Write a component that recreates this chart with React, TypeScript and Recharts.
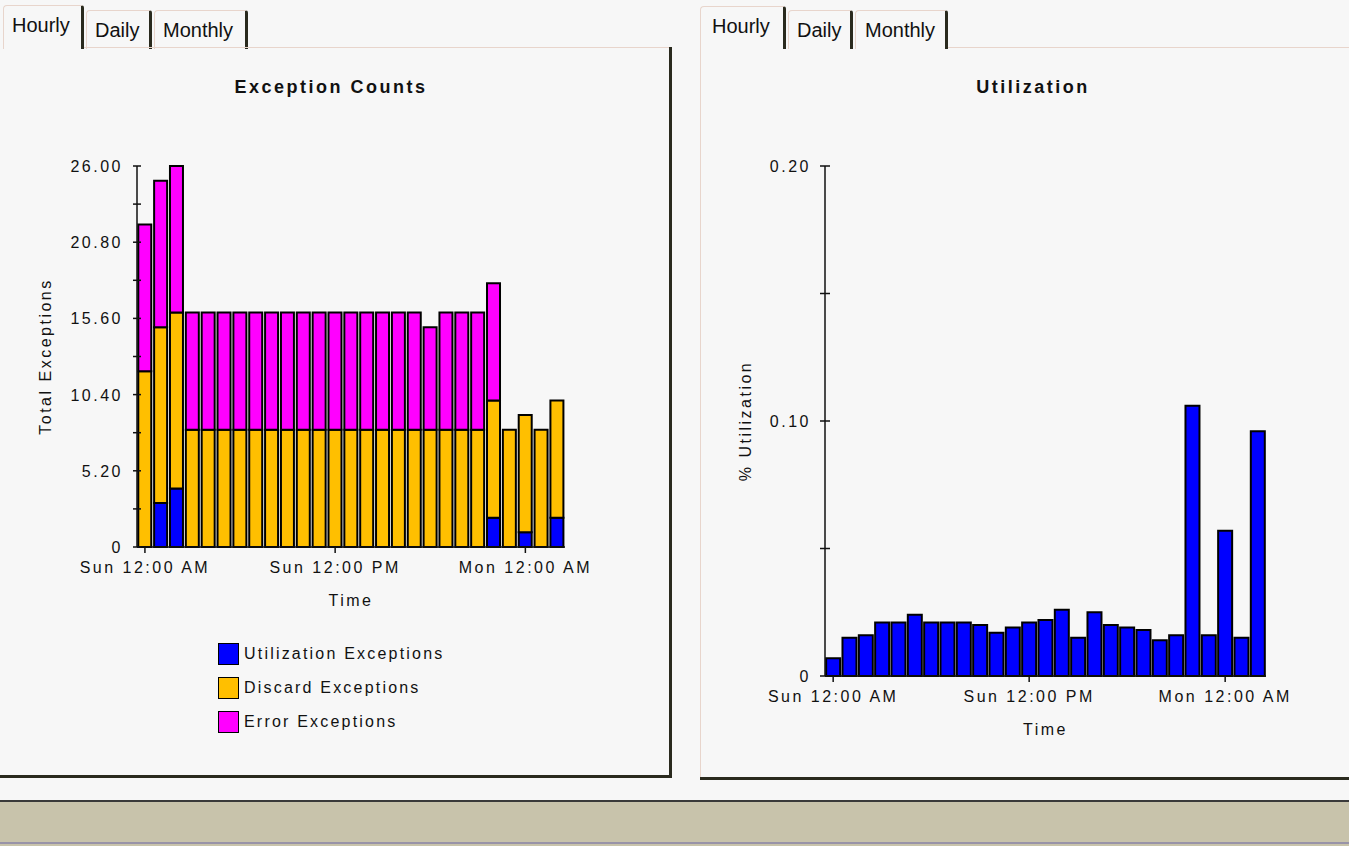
import React from 'react';
import { BarChart, Bar, XAxis, YAxis, Legend } from 'recharts';

const hours = [
  'Sun 12:00 AM', 'Sun 1:00 AM', 'Sun 2:00 AM', 'Sun 3:00 AM', 'Sun 4:00 AM', 'Sun 5:00 AM',
  'Sun 6:00 AM', 'Sun 7:00 AM', 'Sun 8:00 AM', 'Sun 9:00 AM', 'Sun 10:00 AM', 'Sun 11:00 AM',
  'Sun 12:00 PM', 'Sun 1:00 PM', 'Sun 2:00 PM', 'Sun 3:00 PM', 'Sun 4:00 PM', 'Sun 5:00 PM',
  'Sun 6:00 PM', 'Sun 7:00 PM', 'Sun 8:00 PM', 'Sun 9:00 PM', 'Sun 10:00 PM', 'Sun 11:00 PM',
  'Mon 12:00 AM', 'Mon 1:00 AM', 'Mon 2:00 AM',
];

const utilizationExceptions = [0, 3, 4, 0, 0, 0, 0, 0, 0, 0, 0, 0, 0, 0, 0, 0, 0, 0, 0, 0, 0, 0, 2, 0, 1, 0, 2];
const discardExceptions = [12, 12, 12, 8, 8, 8, 8, 8, 8, 8, 8, 8, 8, 8, 8, 8, 8, 8, 8, 8, 8, 8, 8, 8, 8, 8, 8];
const errorExceptions = [10, 10, 10, 8, 8, 8, 8, 8, 8, 8, 8, 8, 8, 8, 8, 8, 8, 8, 7, 8, 8, 8, 8, 0, 0, 0, 0];

const utilization = [
  0.007, 0.015, 0.016, 0.021, 0.021, 0.024, 0.021, 0.021, 0.021, 0.020, 0.017, 0.019, 0.021, 0.022,
  0.026, 0.015, 0.025, 0.020, 0.019, 0.018, 0.014, 0.016, 0.106, 0.016, 0.057, 0.015, 0.096,
];

const exceptionTicks = [0, 2.6, 5.2, 7.8, 10.4, 13, 15.6, 18.2, 20.8, 23.4, 26];
const utilTicks = [0, 0.05, 0.1, 0.15, 0.2];
const legendOrder = ['Utilization Exceptions', 'Discard Exceptions', 'Error Exceptions'];

const exceptionData = hours.map((h, i) => ({
  time: h,
  util: utilizationExceptions[i],
  discard: discardExceptions[i],
  error: errorExceptions[i],
}));
const utilData = hours.map((h, i) => ({ time: h, value: utilization[i] }));

const INK = '#111';
const FONT = '"Liberation Sans", Arial, sans-serif';
const fmt = (v: number) => (v === 0 ? '0' : v.toFixed(2));

function YTick(props: any) {
  const { x, y, payload, index, half } = props;
  const ax = x + 14;
  return (
    <g>
      <line x1={ax - half} x2={ax + half} y1={y} y2={y} stroke={INK} strokeWidth={1.5} />
      {index % 2 === 0 && (
        <text x={x} y={y} dy={6} textAnchor="end" fill={INK} fontSize={16}>
          {fmt(payload.value)}
        </text>
      )}
    </g>
  );
}

function XTick(props: any) {
  const { x, y, payload } = props;
  return (
    <text x={x} y={y} dy={18} textAnchor="middle" fill={INK} fontSize={16}>
      {payload.value}
    </text>
  );
}

function LegendBox(props: any) {
  const items = [...(props.payload || [])].sort(
    (a: any, b: any) => legendOrder.indexOf(a.value) - legendOrder.indexOf(b.value)
  );
  return (
    <div style={{ fontFamily: FONT, fontSize: 16, letterSpacing: '2.2px', color: INK }}>
      {items.map((p: any) => (
        <div key={p.value} style={{ display: 'flex', alignItems: 'center', height: 34 }}>
          <span
            style={{
              display: 'inline-block',
              width: 19,
              height: 20,
              background: p.color,
              border: '1.5px solid #000',
              marginRight: 5,
            }}
          />
          <span>{p.value}</span>
        </div>
      ))}
    </div>
  );
}

function Tab({ left, top, right, label, textX, textTop }: any) {
  return (
    <>
      <div
        style={{
          position: 'absolute',
          left,
          top,
          width: right - left - 4,
          height: 48 - top,
          borderTop: '1px solid #e8d5cc',
          borderLeft: '1px solid #e8d5cc',
          borderRight: '3px solid #2a2a1e',
          borderTopLeftRadius: 4,
          borderTopRightRadius: 3,
        }}
      />
      <div style={{ position: 'absolute', left: textX, top: textTop, fontSize: 20, lineHeight: '20px', color: INK }}>
        {label}
      </div>
    </>
  );
}

const line = (s: React.CSSProperties) => <div style={{ position: 'absolute', ...s }} />;

export default function App() {
  return (
    <div
      style={{
        position: 'relative',
        width: 1349,
        height: 846,
        overflow: 'hidden',
        background: '#f7f7f7',
        fontFamily: FONT,
      }}
    >
      <style>{'body{margin:0}'}</style>

      {/* left panel */}
      <Tab left={3} top={5} right={84} label="Hourly" textX={12} textTop={15} />
      <Tab left={86} top={10} right={152} label="Daily" textX={95} textTop={20} />
      <Tab left={154} top={10} right={248} label="Monthly" textX={163} textTop={20} />
      {line({ left: 84, top: 47, width: 586, height: 1, background: '#e8d5cc' })}
      {line({ left: 669, top: 47, width: 3, height: 731, background: '#2a2a1e' })}
      {line({ left: 0, top: 775, width: 672, height: 3, background: '#2a2a1e' })}

      {/* right panel */}
      <Tab left={700} top={6} right={786} label="Hourly" textX={712} textTop={16} />
      <Tab left={788} top={10} right={853} label="Daily" textX={797} textTop={20} />
      <Tab left={855} top={10} right={948} label="Monthly" textX={865} textTop={20} />
      {line({ left: 700, top: 47, width: 1, height: 731, background: '#e8d5cc' })}
      {line({ left: 948, top: 47, width: 401, height: 1, background: '#e8d5cc' })}
      {line({ left: 700, top: 777, width: 649, height: 3, background: '#2a2a1e' })}

      <div style={{ position: 'absolute', left: 0, top: 78, width: 662, textAlign: 'center', fontSize: 18, lineHeight: '18px', fontWeight: 'bold', letterSpacing: '2.5px', color: INK }}>
        Exception Counts
      </div>
      <div style={{ position: 'absolute', left: 700, top: 78, width: 666, textAlign: 'center', fontSize: 18, lineHeight: '18px', fontWeight: 'bold', letterSpacing: '2.5px', color: INK }}>
        Utilization
      </div>

      <div style={{ position: 'absolute', left: 0, top: 0, letterSpacing: '2.5px', fontSize: 16 }}>
        <BarChart
          width={640}
          height={640}
          data={exceptionData}
          margin={{ top: 166, right: 75, bottom: 23, left: 0 }}
          barCategoryGap="8%"
        >
          <XAxis
            dataKey="time"
            interval={11}
            height={70}
            stroke={INK}
            tickLine={{ stroke: INK, strokeWidth: 1.5 }}
            axisLine={{ stroke: INK, strokeWidth: 1.5 }}
            tickSize={6}
            tickMargin={2}
            tick={(p: any) => <XTick {...p} />}
            label={{ value: 'Time', position: 'insideBottom', offset: 11, fill: INK, fontSize: 16 }}
          />
          <YAxis
            width={137}
            domain={[0, 26]}
            ticks={exceptionTicks}
            interval={0}
            tickLine={false}
            axisLine={{ stroke: INK, strokeWidth: 1.5 }}
            tickSize={4}
            tickMargin={10}
            tick={(p: any) => <YTick {...p} half={4} />}
            label={{
              value: 'Total Exceptions',
              angle: -90,
              position: 'insideLeft',
              offset: 45,
              fill: INK,
              fontSize: 16,
              style: { textAnchor: 'middle' },
            }}
          />
          <Legend
            layout="vertical"
            verticalAlign="middle"
            align="center"
            wrapperStyle={{ left: 218, top: 637, width: 300 }}
            content={(p: any) => <LegendBox {...p} />}
          />
          <Bar dataKey="util" name="Utilization Exceptions" stackId="a" fill="#0000ff" stroke="#000" strokeWidth={2} isAnimationActive={false} />
          <Bar dataKey="discard" name="Discard Exceptions" stackId="a" fill="#ffbf00" stroke="#000" strokeWidth={2} isAnimationActive={false} />
          <Bar dataKey="error" name="Error Exceptions" stackId="a" fill="#ff00ff" stroke="#000" strokeWidth={2} isAnimationActive={false} />
        </BarChart>
      </div>

      <div style={{ position: 'absolute', left: 680, top: 0, letterSpacing: '2.5px', fontSize: 16 }}>
        <BarChart
          width={669}
          height={760}
          data={utilData}
          margin={{ top: 166, right: 83, bottom: 14, left: 0 }}
          barCategoryGap="7%"
        >
          <XAxis
            dataKey="time"
            interval={11}
            height={70}
            stroke={INK}
            tickLine={{ stroke: INK, strokeWidth: 1.5 }}
            axisLine={{ stroke: INK, strokeWidth: 1.5 }}
            tickSize={6}
            tickMargin={2}
            tick={(p: any) => <XTick {...p} />}
            label={{ value: 'Time', position: 'insideBottom', offset: 11, fill: INK, fontSize: 16 }}
          />
          <YAxis
            width={145}
            domain={[0, 0.2]}
            ticks={utilTicks}
            interval={0}
            tickLine={false}
            axisLine={{ stroke: INK, strokeWidth: 1.5 }}
            tickSize={4}
            tickMargin={10}
            tick={(p: any) => <YTick {...p} half={5} />}
            label={{
              value: '% Utilization',
              angle: -90,
              position: 'insideLeft',
              offset: 65,
              fill: INK,
              fontSize: 16,
              style: { textAnchor: 'middle' },
            }}
          />
          <Bar dataKey="value" name="% Utilization" fill="#0000ff" stroke="#000" strokeWidth={2} isAnimationActive={false} />
        </BarChart>
      </div>

      {/* bottom band */}
      {line({ left: 0, top: 800, width: 1349, height: 2, background: '#3a3a3a' })}
      {line({ left: 0, top: 802, width: 1349, height: 40, background: '#c8c3ab' })}
      {line({ left: 0, top: 842, width: 1349, height: 2, background: '#9893a8' })}
      {line({ left: 0, top: 844, width: 1349, height: 2, background: '#c8c3ab' })}
    </div>
  );
}
